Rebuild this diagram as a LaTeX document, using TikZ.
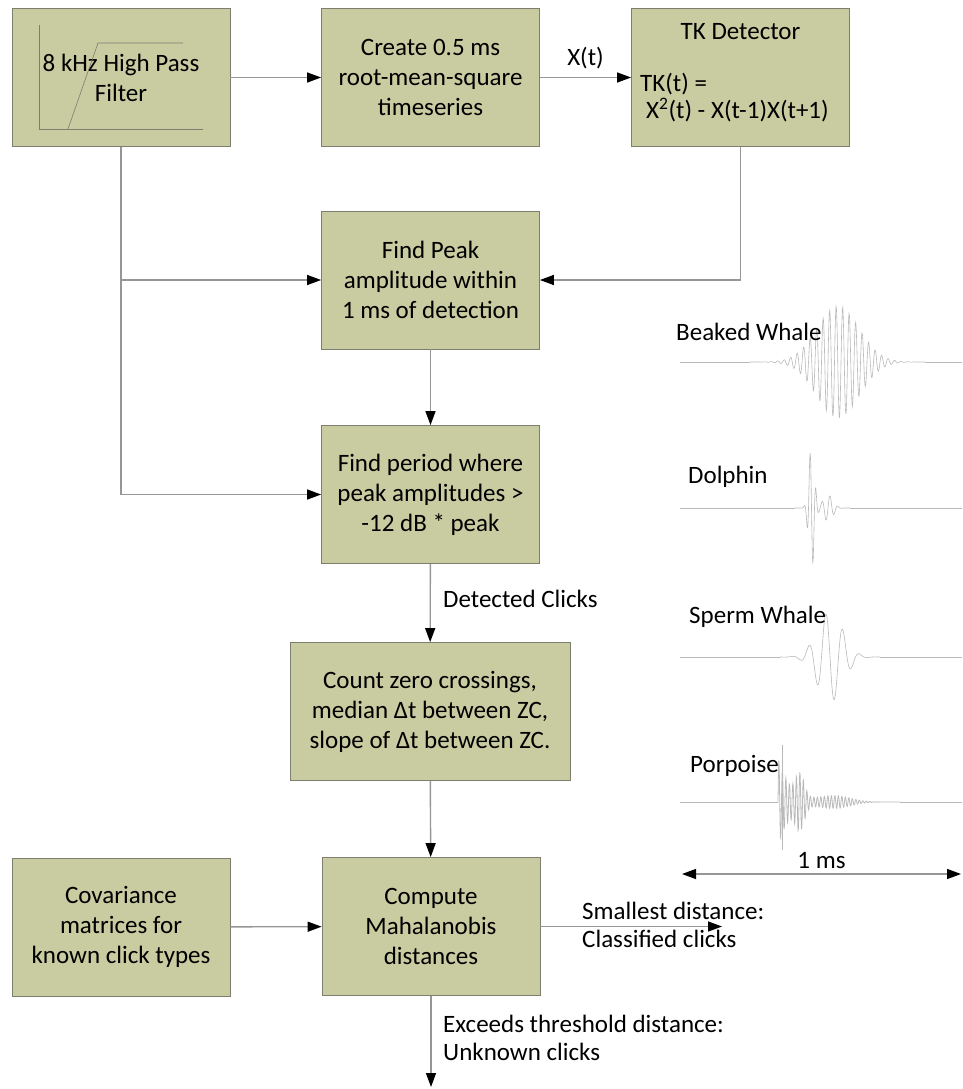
\documentclass[tikz,border=0pt]{standalone}
\usepackage{fontspec}
\setmainfont{Carlito}
\usetikzlibrary{arrows.meta,calc,positioning}
\definecolor{boxfill}{RGB}{201,203,160}
\definecolor{boxline}{RGB}{125,125,112}
\definecolor{linkgray}{RGB}{150,150,150}
\definecolor{wavegray}{RGB}{185,185,185}

\begin{document}
\begin{tikzpicture}[x=1pt,y=-1pt,>={Triangle[length=14pt,width=10pt,color=black]},
  box/.style={draw=boxline,line width=0.8pt,fill=boxfill,minimum width=218pt,minimum height=138pt,inner sep=2pt,align=center,font=\fontsize{25}{30}\selectfont},
  link/.style={draw=linkgray,line width=1.4pt,->},
  lbl/.style={font=\fontsize{25}{28}\selectfont,align=left,inner sep=0pt},
  wave/.style={wavegray,line width=0.6pt}]
\useasboundingbox (0,0) rectangle (962,1089);
% processing chain
\node[box] (hpf) at (121,77.5) {8 kHz High Pass\\Filter};
\node[box] (rms) at (430.5,77.5) {Create 0.5 ms\\root-mean-square\\timeseries};
\node[box] (tk) at (740.5,77.5) {};
\node[lbl,anchor=base] (tkname) at (740.5,40) {TK Detector};
\node[lbl,anchor=base west] (tkeq) at (640,92) {TK(t) =};
\node[lbl,anchor=base west] (tkterm) at (646,119) {X\textsuperscript{2}(t) - X(t-1)X(t+1)};
\node[box] (peak) at (430.5,280) {Find Peak\\amplitude within\\1 ms of detection};
\node[box] (period) at (430.5,494.5) {Find period where\\peak amplitudes >\\-12 dB * peak};
\node[box,minimum width=280pt] (zc) at (430,711.5) {Count zero crossings,\\median Δt between ZC,\\slope of Δt between ZC.};
\node[box] (mahal) at (431,926.5) {Compute\\Mahalanobis\\distances};
\node[box] (cov) at (121,927) {Covariance\\matrices for\\known click types};
% filter sketch
\draw[boxline,line width=0.6pt] (39,25) -- (39,129) -- (203,129);
\draw[boxline,line width=0.6pt] (68,129) -- (98,43) -- (183,43);
% connectors
\draw[link] (hpf) -- (rms);
\draw[link] (rms) -- node[lbl,above=8pt] (xt) {X(t)} (tk);
\draw[link] (tk.south) |- (peak.east);
\draw[link] (hpf.south) |- (period.west);
\draw[link] (hpf.south |- peak.west) -- (peak.west);
\draw[link] (peak) -- (period);
\draw[link] (period) -- (zc);
\node[lbl,anchor=base west] (det) at (443,607) {Detected Clicks};
\draw[link] (zc) -- (mahal);
\draw[link] (cov) -- (mahal);
\coordinate (classed) at (722,926.5);
\draw[link] (mahal.east) -- (classed);
\node[lbl,anchor=west] (small) at (582,925) {Smallest distance:\\Classified clicks};
\coordinate (unknown) at (431,1087);
\draw[link] (mahal) -- (unknown);
\node[lbl,anchor=west] (exceed) at (443,1038) {Exceeds threshold distance:\\Unknown clicks};
% click waveforms (phase factors are 360/period)
\draw[wave] (680,362) -- (750,362);
\draw[wave] plot[domain=750:925,samples=420] (\x,{362-56*exp(-((\x-838)/30)^2)*sin((\x-750)*55.38)});
\draw[wave] (925,362) -- (962,362);
\draw[wave] (680,508) -- (795,508);
\draw[wave] plot[domain=795:850,samples=260] (\x,{508-62*exp(-((\x-811.5)/4)^2)*sin((\x-808.5)*60)-13*exp(-((\x-828)/7)^2)*sin((\x-820)*45)});
\draw[wave] (850,508) -- (962,508);
\draw[wave] (680,657) -- (780,657);
\draw[wave] plot[domain=780:880,samples=260] (\x,{657+45*exp(-((\x-830)/18)^2)*sin((\x-830)*21.18)});
\draw[wave] (880,657) -- (962,657);
\draw[wave] (680,802) -- (778,802);
\draw[wave,line width=0.8pt] plot[domain=778:900,samples=500] (\x,{802-(45*exp(-(\x-778)/12)+22*exp(-((\x-800)/6)^2)+6*exp(-((\x-835)/22)^2))*sin((\x-778)*102.86)});
\draw[wave] (900,802) -- (962,802);
\draw[wave] (782,745) -- (782,850);
\node[lbl,anchor=base west] (bw) at (676,340) {Beaked Whale};
\node[lbl,anchor=base west] (dol) at (688,483) {Dolphin};
\node[lbl,anchor=base west] (sw) at (689,623) {Sperm Whale};
\node[lbl,anchor=base west] (por) at (690,772) {Porpoise};
% time scale
\coordinate (msl) at (682,874);
\coordinate (msr) at (961,874);
\draw[link,<->] (msl) -- node[lbl,above=5pt] (ms) {1 ms} (msr);
\end{tikzpicture}
\end{document}
